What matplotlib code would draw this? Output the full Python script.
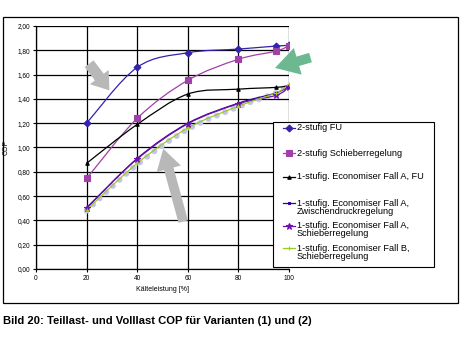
import matplotlib
matplotlib.use('Agg')
import matplotlib.pyplot as plt
from matplotlib.path import Path
from matplotlib.patches import PathPatch, Rectangle
from matplotlib.lines import Line2D
from matplotlib.ticker import FuncFormatter, MultipleLocator
from matplotlib import font_manager

# Daten
last = [20, 40, 60, 80, 95, 100]
cop_2st_fu = [1.20, 1.66, 1.78, 1.81, 1.835, 1.84]
cop_2st_schieber = [0.745, 1.24, 1.553, 1.726, 1.794, 1.838]
cop_a_fu = [0.87, 1.19, 1.44, 1.48, 1.495, 1.51]
cop_a_zwischen = [0.50, 0.91, 1.20, 1.365, 1.45, 1.51]
cop_a_schieber = [0.505, 0.905, 1.195, 1.36, 1.43, 1.50]
cop_b_schieber = [0.485, 0.87, 1.16, 1.34, 1.45, 1.52]
cop_punkte = [0.48, 0.86, 1.15, 1.335, 1.45, 1.52]

labels = ['2-stufig FU', '2-stufig Schieberregelung', '1-stufig. Economiser Fall A, FU',
          '1-stufig. Economiser Fall A,\nZwischendruckregelung',
          '1-stufig. Economiser Fall A,\nSchieberregelung',
          '1-stufig. Economiser Fall B,\nSchieberregelung']

W, H = 473, 360
names = {f.name for f in font_manager.fontManager.ttflist}
caption_font = 'Liberation Sans Narrow' if 'Liberation Sans Narrow' in names else 'Liberation Sans'
plt.rcParams['font.family'] = ['Liberation Sans', 'DejaVu Sans']


def fx(px):
    return px / W


def fy(py):
    return 1 - py / H


def smooth_path(xs, ys):
    """Excel-artige geglaettete Linie als Bezier-Pfad."""
    pts = list(zip(xs, ys))
    n = len(pts)
    verts = [pts[0]]
    codes = [Path.MOVETO]
    for i in range(n - 1):
        p0 = pts[i - 1] if i > 0 else pts[i]
        p1 = pts[i]
        p2 = pts[i + 1]
        p3 = pts[i + 2] if i + 2 < n else pts[i + 1]
        c1 = (p1[0] + (p2[0] - p0[0]) / 6, p1[1] + (p2[1] - p0[1]) / 6)
        c2 = (p2[0] - (p3[0] - p1[0]) / 6, p2[1] - (p3[1] - p1[1]) / 6)
        verts += [c1, c2, p2]
        codes += [Path.CURVE4] * 3
    return Path(verts, codes)


fig = plt.figure(figsize=(W / 100, H / 100), dpi=100)
ax = fig.add_axes([fx(36), fy(269), (289 - 36) / W, (269 - 26) / H])

series = [
    (cop_2st_fu, '#3322aa', 'D', 3.5, '#3322aa'),
    (cop_2st_schieber, '#a040a8', 's', 4, '#a040a8'),
    (cop_a_fu, '#000000', '^', 2.5, '#000000'),
    (cop_a_zwischen, '#330099', 's', 2, '#330099'),
    (cop_a_schieber, '#7010b0', '*', 5, '#7010b0'),
    (cop_b_schieber, '#99cc22', '+', 3.5, '#99cc22'),
]

# hellviolette Punktlinie
pp = PathPatch(smooth_path(last, cop_punkte), fill=False, edgecolor='#c4c4ee',
               linewidth=4.3, linestyle=(0, (0.01, 1.5)), zorder=3)
pp.set_capstyle('round')
ax.add_patch(pp)

for vals, col, mk, ms, mc in series:
    ax.add_patch(PathPatch(smooth_path(last, vals), fill=False, edgecolor=col,
                           linewidth=0.9, zorder=4))
    ax.plot(last, vals, linestyle='none', marker=mk, markersize=ms, color=mc,
            markeredgewidth=0.8, zorder=5)

ax.set_xlim(0, 100)
ax.set_ylim(0, 2.0)
ax.xaxis.set_major_locator(MultipleLocator(20))
ax.yaxis.set_major_locator(MultipleLocator(0.2))
ax.yaxis.set_major_formatter(FuncFormatter(lambda v, p: f"{v:.2f}".replace('.', ',')))
ax.grid(True, color='black', linewidth=0.9)
ax.set_axisbelow(True)
for s in ['top', 'right']:
    ax.spines[s].set_visible(False)
for s in ['left', 'bottom']:
    ax.spines[s].set_linewidth(0.9)
ax.tick_params(labelsize=4.7, length=2, width=0.8, pad=2)
ax.set_xlabel('Kälteleistung [%]', fontsize=5, labelpad=3)
ax.set_ylabel('COP', fontsize=5, labelpad=6)

# Pfeile
arrows = [
    ((29.0, 1.47), (21.0, 1.69), '#b8b8b8', 1.2, 1.7, 0.8),
    ((50.3, 0.99), (58.2, 0.39), '#b8b8b8', 1.5, 1.8, 0.7),
    ((94.5, 1.655), (108.5, 1.74), '#6cb890', 1.7, 2.0, 0.7),
]
for tip, tail, col, hl, hw, tw in arrows:
    ax.annotate('', xy=tip, xytext=tail, annotation_clip=False,
                arrowprops=dict(arrowstyle=f'simple,head_length={hl},head_width={hw},tail_width={tw}',
                                color=col, lw=0, mutation_scale=10, shrinkA=0, shrinkB=0),
                zorder=6)

# Legende (manuell)
fig.add_artist(Rectangle((fx(273), fy(267)), (434 - 273) / W, (267 - 122) / H,
                         facecolor='white', edgecolor='black', linewidth=0.8, zorder=10))
rows = [127.7, 153.3, 176.7, 203.3, 225.7, 248.3]
for (vals, col, mk, ms, mc), lab, ry in zip(series, labels, rows):
    fig.add_artist(Line2D([fx(283), fx(295)], [fy(ry), fy(ry)], color=col, linewidth=0.9,
                          zorder=11))
    fig.add_artist(Line2D([fx(289)], [fy(ry)], color=mc, marker=mk, markersize=ms,
                          markeredgewidth=0.8, zorder=12))
    for k, line in enumerate(lab.split('\n')):
        fig.text(fx(297), fy(ry + k * 8.0), line, fontsize=6.6, va='center', ha='left', zorder=12)

# Rahmen
fig.add_artist(Rectangle((fx(3), fy(303)), (458 - 3) / W, (303 - 17) / H,
                         facecolor='none', edgecolor='black', linewidth=0.9, zorder=1))

# Bildunterschrift
cap = fig.text(fx(3), fy(321), 'Bild 20: Teillast- und Volllast COP für Varianten (1) und (2)',
               fontsize=9, fontweight='bold', family=[caption_font, 'DejaVu Sans'],
               va='center', ha='left')
fig.canvas.draw()
wpx = cap.get_window_extent().width
cap.set_fontsize(9 * 310 / wpx)

fig.savefig('out.png', dpi=100)
